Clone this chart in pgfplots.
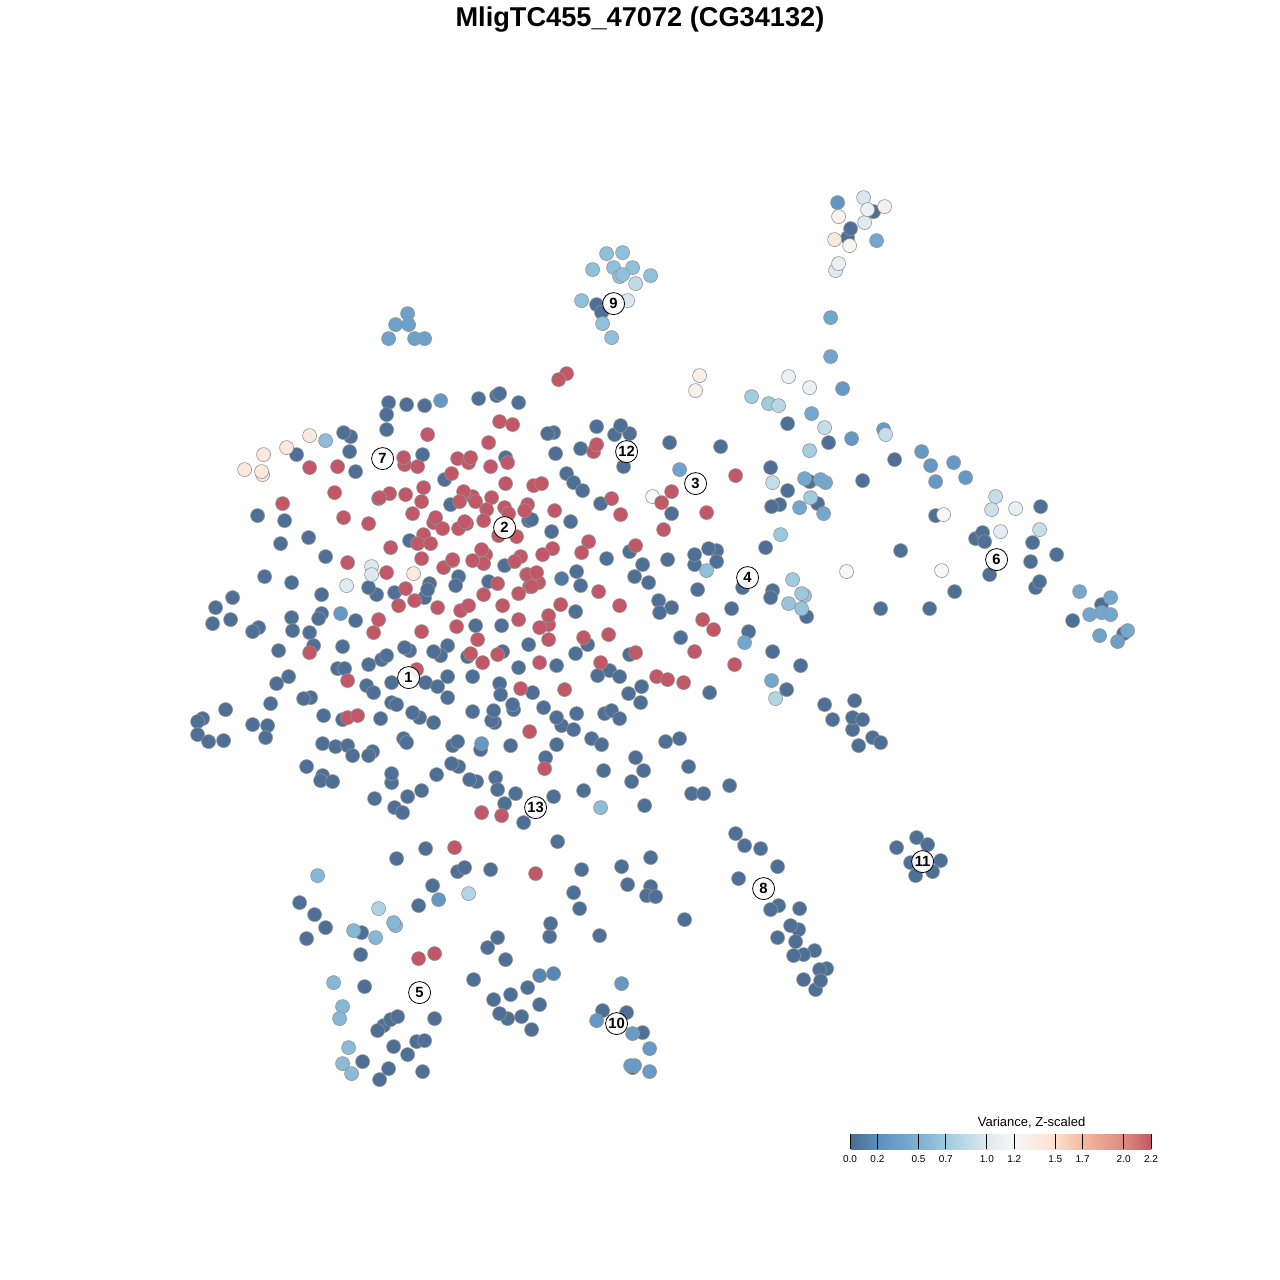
\documentclass[border=0pt]{standalone}
\usepackage{fontspec}
\setmainfont{Liberation Sans}
\usepackage{pgfplots}
\pgfplotsset{compat=1.18}

% positions are the value times ten, in cm, so the stops can sit unevenly
\pgfplotsset{colormap={varz}{
  rgb255(0cm)=(75,107,143) rgb255(2cm)=(92,143,191) rgb255(5cm)=(125,176,212)
  rgb255(7cm)=(159,203,224) rgb255(10cm)=(221,233,240) rgb255(12cm)=(247,247,247)
  rgb255(15cm)=(253,224,208) rgb255(17cm)=(246,184,159) rgb255(20cm)=(221,138,128)
  rgb255(22cm)=(194,88,103)}}

\begin{document}
\begin{tikzpicture}
\path[use as bounding box] (0,0) rectangle (640pt,640pt);
\begin{axis}[
  at={(0,0)}, anchor=south west,
  scale only axis, width=640pt, height=640pt,
  xmin=-0.6, xmax=1279.4, ymin=-0.6, ymax=1279.4, y dir=reverse,
  hide axis, clip=false,
  title={\fontsize{13.6}{15}\selectfont\bfseries MligTC455\_47072 (CG34132)},
  title style={at={(0.5,1)}, anchor=center, yshift=-16pt, inner sep=0pt},
  colormap name=varz,
  point meta min=0, point meta max=2.2,
  colorbar horizontal,
  colorbar style={
    at={(0.6641,0.1023)}, anchor=south west,
    width=150.5pt, height=7.5pt,
    xtick={0,0.2,0.5,0.7,1.0,1.2,1.5,1.7,2.0,2.2},
    xticklabel pos=bottom,
    xticklabel style={font=\fontsize{5}{6}\selectfont, /pgf/number format/fixed,
      /pgf/number format/fixed zerofill, /pgf/number format/precision=1,
      /pgf/number format/assume math mode=true, yshift=0.2pt},
    tick align=inside, major tick length=7.5pt,
    xtick style={draw=black, line width=0.4pt},
    axis line style={draw=none},
    title={\fontsize{6.5}{7}\selectfont Variance, Z-scaled},
    title style={at={(0.603,1)}, anchor=south, yshift=-4.5pt, inner sep=1pt},
  },
]
\addplot[scatter, only marks, mark=*, mark size=3.5pt, line width=0.3pt,
  point meta=explicit,
  scatter/use mapped color={draw=black!42, fill=mapped color}]
  table[x=x, y=y, meta=v, row sep=\\] {
x y v\\
388 402 .03\\ 406 404 .03\\ 424 405 .03\\ 386 414 .03\\ 386 429 .03\\ 478 398 .03\\ 496 395 .03\\ 499 393 .03\\
518 402 .03\\ 350 436 .03\\ 343 432 .03\\ 296 454 .03\\ 349 451 .03\\ 355 471 .03\\ 422 454 .03\\ 505 457 .03\\
444 479 .03\\ 378 498 .03\\ 450 504 .03\\ 257 515 .03\\ 284 520 .03\\ 528 520 .03\\ 308 537 .03\\ 280 543 .03\\
409 540 .03\\ 325 556 .03\\ 504 565 .03\\ 264 576 .03\\ 291 582 .03\\ 376 594 .03\\ 368 587 .03\\ 321 594 .03\\
232 597 .03\\ 394 592 .03\\ 424 597 .03\\ 429 583 .03\\ 427 589 .03\\ 458 576 .03\\ 455 585 .03\\ 488 581 .03\\
230 619 .03\\ 291 617 .03\\ 321 613 .03\\ 318 618 .03\\ 355 620 .03\\ 258 627 .03\\ 252 631 .03\\ 292 630 .03\\
313 645 .03\\ 309 632 .03\\ 278 650 .03\\ 342 646 .03\\ 475 625 .03\\ 501 625 .03\\ 447 645 .03\\ 440 655 .03\\
433 651 .03\\ 409 650 .03\\ 404 647 .03\\ 381 659 .03\\ 386 655 .03\\ 368 664 .03\\ 337 668 .03\\ 344 668 .03\\
467 656 .03\\ 502 651 .03\\ 528 644 .03\\ 518 667 .03\\ 215 607 .03\\ 212 623 .03\\
553 432 .03\\ 547 433 .03\\ 596 426 .03\\ 614 434 .03\\ 629 433 .03\\ 620 425 .03\\ 580 448 .03\\ 555 453 .03\\
623 466 .03\\ 669 442 .03\\ 720 446 .03\\ 671 513 .03\\ 566 473 .03\\ 573 482 .03\\ 582 490 .03\\ 600 503 .03\\
531 519 .03\\ 570 521 .03\\ 551 531 .03\\ 606 558 .03\\ 629 551 .03\\ 642 564 .03\\ 634 576 .03\\ 648 582 .03\\
667 559 .03\\ 694 564 .03\\ 694 554 .03\\ 716 550 .03\\ 708 548 .03\\ 716 561 .03\\ 697 589 .03\\ 576 571 .03\\
580 585 .03\\ 658 600 .03\\ 671 607 .03\\ 659 612 .03\\ 575 611 .03\\ 587 644 .03\\ 575 653 .03\\ 629 654 .03\\
556 665 .03\\ 609 670 .03\\ 680 637 .03\\
447 676 .03\\ 472 676 .03\\ 391 682 .03\\ 425 682 .03\\ 437 686 .03\\ 447 697 .03\\ 288 676 .03\\ 276 683 .03\\
366 685 .03\\ 373 692 .03\\ 270 703 .03\\ 310 697 .03\\ 303 698 .03\\ 391 702 .03\\ 396 704 .03\\ 419 717 .03\\
412 712 .03\\ 433 722 .03\\ 472 711 .03\\ 225 709 .03\\ 202 718 .03\\ 197 721 .03\\ 197 734 .03\\ 208 741 .03\\
223 740 .03\\ 252 724 .03\\ 267 725 .03\\ 265 737 .03\\ 323 715 .03\\ 342 719 .03\\ 380 718 .03\\ 322 743 .03\\
335 746 .03\\ 347 745 .03\\ 352 755 .03\\ 372 751 .03\\ 368 755 .03\\ 403 738 .03\\ 406 742 .03\\ 306 766 .03\\
322 775 .03\\ 320 780 .03\\ 332 781 .03\\ 391 782 .03\\ 391 773 .03\\ 436 774 .03\\ 458 766 .03\\ 451 763 .03\\
452 745 .03\\ 457 741 .03\\ 480 749 .03\\ 476 781 .03\\ 469 779 .03\\ 421 790 .03\\ 407 796 .03\\ 374 798 .03\\
394 807 .03\\ 402 812 .03\\ 425 848 .03\\ 396 858 .03\\ 457 871 .03\\ 464 867 .03\\ 490 869 .03\\
597 675 .03\\ 619 676 .03\\ 641 686 .03\\ 628 693 .03\\ 640 702 .03\\ 709 692 .03\\ 499 683 .03\\ 500 694 .03\\
532 692 .03\\ 513 709 .03\\ 512 704 .03\\ 543 707 .03\\ 494 722 .03\\ 491 720 .03\\ 493 710 .03\\ 561 725 .03\\
556 717 .03\\ 576 713 .03\\ 573 729 .03\\ 604 713 .03\\ 611 710 .03\\ 619 718 .03\\ 510 745 .03\\ 556 744 .03\\
591 738 .03\\ 601 744 .03\\ 665 741 .03\\ 679 738 .03\\ 545 757 .03\\ 635 757 .03\\ 643 770 .03\\ 631 781 .03\\
603 770 .03\\ 688 766 .03\\ 691 793 .03\\ 703 793 .03\\ 729 785 .03\\ 583 790 .03\\ 553 796 .03\\ 644 805 .03\\
515 793 .03\\ 495 777 .03\\ 497 789 .03\\ 504 803 .03\\ 523 822 .03\\ 557 841 .03\\ 650 857 .03\\ 621 866 .03\\
581 869 .03\\
787 423 .03\\ 828 442 .03\\ 894 459 .03\\ 770 467 .03\\ 809 481 .03\\ 862 480 .03\\ 787 490 .03\\ 817 503 .03\\
779 504 .03\\ 771 506 .03\\ 765 547 .03\\ 900 550 .03\\ 742 587 .03\\ 772 590 .03\\ 770 597 .03\\ 806 616 .03\\
880 608 .03\\ 929 608 .03\\ 731 608 .03\\ 748 631 .03\\ 772 651 .03\\ 800 665 .03\\ 786 689 .03\\ 824 704 .03\\
854 700 .03\\ 832 719 .03\\ 852 729 .03\\ 852 717 .03\\ 862 719 .03\\ 872 737 .03\\ 880 742 .03\\ 858 745 .03\\
735 833 .03\\ 744 845 .03\\ 760 848 .03\\ 777 866 .03\\ 738 878 .03\\ 778 905 .03\\ 770 909 .03\\ 799 908 .03\\
798 929 .03\\ 790 925 .03\\ 777 937 .03\\ 795 941 .03\\ 814 950 .03\\ 803 954 .03\\ 793 955 .03\\ 826 968 .03\\
819 969 .03\\ 803 979 .03\\ 815 989 .03\\ 820 980 .03\\ 916 837 .03\\ 927 844 .03\\ 896 847 .03\\ 910 862 .03\\
940 860 .03\\ 932 871 .03\\ 915 875 .03\\
935 515 .03\\ 1040 506 .03\\ 975 538 .03\\ 982 532 .03\\ 984 541 .03\\ 1032 542 .03\\ 1056 554 .03\\ 1030 561 .03\\
989 574 .03\\ 1035 587 .03\\ 1039 581 .03\\ 954 591 .03\\ 1101 604 .03\\ 1072 620 .03\\ 1123 633 .03\\
873 211 .03\\ 847 237 .03\\ 850 228 .03\\ 596 304 .03\\ 601 312 .03\\
432 885 .03\\ 299 902 .03\\ 418 905 .03\\ 314 914 .03\\ 325 927 .03\\ 361 932 .03\\ 306 938 .03\\ 360 954 .03\\
497 937 .03\\ 487 947 .03\\ 505 959 .03\\ 549 936 .03\\ 550 923 .03\\ 473 979 .03\\ 364 986 .03\\ 527 987 .03\\
510 994 .03\\ 493 999 .03\\ 539 1004 .03\\ 507 1018 .03\\ 499 1013 .03\\ 521 1016 .03\\ 531 1029 .03\\ 434 1018 .03\\
383 1025 .03\\ 377 1030 .03\\ 390 1019 .03\\ 397 1016 .03\\ 416 1041 .03\\ 424 1040 .03\\ 393 1046 .03\\ 407 1054 .03\\
362 1061 .03\\ 388 1068 .03\\ 422 1071 .03\\ 379 1079 .03\\
627 884 .03\\ 650 886 .03\\ 646 895 .03\\ 655 896 .03\\ 573 892 .03\\ 579 908 .03\\ 684 919 .03\\ 599 935 .03\\
602 1010 .03\\ 626 1012 .03\\ 642 1032 .03\\ 632 1067 .03\\
561 578 .08\\ 539 975 .15\\ 553 973 .15\\
440 400 .28\\ 340 613 .28\\ 842 388 .28\\ 851 438 .28\\ 883 429 .28\\ 921 451 .28\\ 930 465 .28\\ 953 462 .28\\
935 481 .28\\ 965 477 .28\\ 837 202 .26\\ 481 743 .28\\ 438 899 .28\\ 621 983 .28\\ 596 1020 .28\\ 632 1033 .3\\
649 1048 .3\\ 634 1065 .3\\ 630 1065 .3\\ 649 1071 .3\\
1117 641 .35\\ 407 313 .36\\ 395 324 .36\\ 408 324 .36\\ 388 338 .36\\ 414 338 .36\\ 424 338 .36\\ 1099 635 .38\\
679 469 .38\\ 830 356 .4\\ 811 413 .42\\ 804 478 .42\\ 825 482 .42\\ 820 479 .42\\ 799 507 .42\\
823 513 .42\\ 744 642 .42\\ 771 680 .42\\ 1079 591 .42\\ 1101 612 .42\\ 1089 614 .42\\ 1110 597 .42\\ 1110 614 .42\\
1127 630 .42\\ 830 317 .42\\ 876 240 .42\\
317 875 .55\\ 353 930 .55\\ 375 937 .55\\ 395 925 .55\\ 393 922 .55\\ 333 982 .55\\ 342 1006 .55\\ 339 1018 .55\\
348 1047 .58\\ 342 1063 .58\\ 351 1073 .58\\ 600 807 .6\\ 325 440 .6\\
706 570 .62\\ 592 269 .62\\ 606 253 .62\\ 622 252 .62\\ 613 267 .62\\ 632 267 .62\\ 619 276 .62\\ 622 274 .62\\
650 275 .62\\ 581 300 .62\\ 602 323 .62\\ 611 337 .62\\
804 595 .65\\ 788 603 .65\\ 801 593 .68\\ 801 608 .65\\ 780 534 .68\\ 792 579 .7\\ 768 403 .7\\ 810 497 .7\\
751 396 .72\\ 809 450 .72\\
378 908 .78\\ 775 698 .8\\ 468 893 .8\\ 778 405 .82\\ 635 283 .85\\ 995 496 .88\\ 1039 529 .88\\ 824 427 .88\\
885 434 .88\\ 772 482 .88\\ 991 509 .92\\
863 197 .98\\ 371 566 1.0\\ 371 574 1.0\\ 627 300 1.0\\ 864 222 1.02\\ 835 270 1.02\\ 346 585 1.02\\ 1000 531 1.05\\
1015 508 1.08\\ 809 387 1.1\\ 788 376 1.1\\ 867 209 1.1\\ 838 263 1.1\\
652 496 1.2\\ 846 571 1.2\\ 941 570 1.2\\ 943 514 1.2\\ 849 245 1.22\\ 838 216 1.25\\ 695 390 1.28\\ 699 375 1.3\\
884 206 1.3\\
309 435 1.38\\ 286 447 1.38\\ 263 454 1.38\\ 244 469 1.38\\ 262 474 1.38\\ 261 471 1.38\\ 413 573 1.38\\ 834 239 1.4\\
499 421 2.2\\ 512 424 2.2\\ 427 434 2.2\\ 488 442 2.2\\ 309 467 2.2\\ 337 466 2.2\\ 404 464 2.2\\ 403 457 2.2\\
417 466 2.2\\ 457 458 2.2\\ 468 462 2.2\\ 470 457 2.2\\ 507 462 2.2\\ 490 466 2.2\\ 451 473 2.2\\ 505 483 2.2\\
334 492 2.2\\ 423 487 2.2\\ 389 493 2.2\\ 405 494 2.2\\ 379 497 2.2\\ 421 501 2.2\\ 472 496 2.2\\ 463 491 2.2\\
475 501 2.2\\ 459 501 2.2\\ 491 497 2.2\\ 282 503 2.2\\ 343 517 2.2\\ 368 523 2.2\\ 412 513 2.2\\ 433 522 2.2\\
435 517 2.2\\ 442 528 2.2\\ 486 509 2.2\\ 504 507 2.2\\ 508 513 2.2\\ 527 504 2.2\\ 524 510 2.2\\ 466 523 2.2\\
458 528 2.2\\ 464 521 2.2\\ 483 520 2.2\\ 498 535 2.2\\ 516 536 2.2\\ 390 547 2.2\\ 423 534 2.2\\ 417 543 2.2\\
430 543 2.2\\ 347 562 2.2\\ 386 572 2.2\\ 421 558 2.2\\ 443 567 2.2\\ 452 560 2.2\\ 452 559 2.2\\ 485 554 2.2\\
483 563 2.2\\ 472 560 2.2\\ 481 549 2.2\\ 520 556 2.2\\ 514 561 2.2\\ 526 574 2.2\\ 529 586 2.2\\ 405 588 2.2\\
414 600 2.2\\ 398 605 2.2\\ 437 607 2.2\\ 497 583 2.2\\ 483 594 2.2\\ 518 593 2.2\\ 502 605 2.2\\ 460 610 2.2\\
468 605 2.2\\ 378 619 2.2\\ 373 632 2.2\\ 421 631 2.2\\ 456 626 2.2\\ 518 619 2.2\\ 477 639 2.2\\ 470 653 2.2\\
497 654 2.2\\ 482 662 2.2\\ 309 652 2.2\\ 416 669 2.2\\
566 373 2.2\\ 558 379 2.2\\ 593 451 2.2\\ 596 444 2.2\\ 671 491 2.2\\ 661 502 2.2\\ 706 512 2.2\\ 663 529 2.2\\
611 498 2.2\\ 620 514 2.2\\ 533 485 2.2\\ 541 483 2.2\\ 554 510 2.2\\ 552 548 2.2\\ 542 554 2.2\\ 588 541 2.2\\
581 552 2.2\\ 635 545 2.2\\ 598 591 2.2\\ 619 605 2.2\\ 560 604 2.2\\ 548 624 2.2\\ 548 615 2.2\\ 539 627 2.2\\
548 639 2.2\\ 527 574 2.2\\ 538 582 2.2\\ 531 586 2.2\\ 536 572 2.2\\ 583 637 2.2\\ 608 634 2.2\\ 635 652 2.2\\
600 662 2.2\\ 539 662 2.2\\ 694 651 2.2\\ 702 619 2.2\\ 713 629 2.2\\ 347 680 2.2\\ 347 717 2.2\\ 357 715 2.2\\
520 688 2.2\\ 564 689 2.2\\ 656 676 2.2\\ 667 679 2.2\\ 683 682 2.2\\ 734 664 2.2\\ 529 731 2.2\\ 544 768 2.2\\
481 812 2.2\\ 501 815 2.2\\ 454 847 2.2\\ 535 873 2.2\\ 418 958 2.2\\ 434 953 2.2\\ 735 475 2.2\\
};
% cluster numbers
\addplot[only marks, mark=none, point meta=explicit symbolic, nodes near coords,
  nodes near coords style={anchor=center, circle, draw=black, fill=white,
    fill opacity=0.9, text opacity=1, line width=0.4pt, inner sep=0pt,
    minimum size=11pt, font=\fontsize{7.4}{8}\selectfont\bfseries}]
  table[x=x, y=y, meta=n] {
x y n
408 677 1
504 527 2
695 483 3
747 577 4
419 992 5
996 559 6
382 458 7
763 888 8
613 303 9
616 1023 10
922 861 11
626 451 12
535 807 13
};
\end{axis}
\end{tikzpicture}
\end{document}
